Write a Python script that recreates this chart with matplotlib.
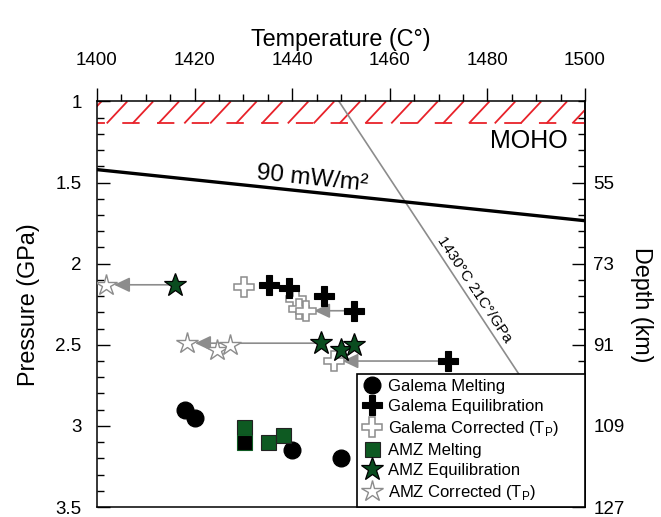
import numpy as np
import matplotlib
matplotlib.use('Agg')
import matplotlib.pyplot as plt
from matplotlib.ticker import MultipleLocator, FixedLocator, FuncFormatter

plt.rcParams['font.family'] = ['Liberation Sans', 'DejaVu Sans']
plt.rcParams['lines.scale_dashes'] = False
plt.rcParams['mathtext.fontset'] = 'custom'
plt.rcParams['mathtext.rm'] = 'Liberation Sans'

# ---------------- data ----------------
galema_melt_T = [1418.1, 1420.1, 1440.0, 1449.9]
galema_melt_P = [2.90, 2.95, 3.15, 3.20]

galema_eq_T = [1435.2, 1439.3, 1446.5, 1452.7, 1471.9]
galema_eq_P = [2.13, 2.15, 2.20, 2.29, 2.60]

galema_corr_T = [1430.1, 1440.7, 1441.4, 1442.8, 1448.6]
galema_corr_P = [2.145, 2.215, 2.28, 2.29, 2.60]

amz_melt_T = [1430.1, 1435.1, 1438.2]
amz_melt_P = [3.005, 3.10, 3.055]

# overlapping melting point drawn as a dark square
overlap_melt_T = [1430.1]
overlap_melt_P = [3.10]

amz_eq_T = [1416.0, 1445.8, 1449.9, 1452.7]
amz_eq_P = [2.13, 2.49, 2.53, 2.50]

amz_corr_T = [1401.8, 1418.4, 1424.6, 1427.3]
amz_corr_P = [2.13, 2.49, 2.53, 2.50]

# which equilibration points carry an arrow to their corrected value
amz_arrow_idx = [0, 1]
galema_arrow_idx = [3, 4]

geotherm_T = [1400, 1500]
geotherm_P = [1.42, 1.735]

adiabat_T = [1449.6, 1504.4]
adiabat_P = [1.0, 3.5]

moho_top_P = 1.0
moho_base_P = 1.135

pressure_ticks = [1, 1.5, 2, 2.5, 3, 3.5]
depth_ticks = [55, 73, 91, 109, 127]
temp_ticks = [1400, 1420, 1440, 1460, 1480, 1500]

legend_labels = ['Galema Melting', 'Galema Equilibration',
                 r'Galema Corrected (T$_\mathregular{P}$)',
                 'AMZ Melting', 'AMZ Equilibration',
                 r'AMZ Corrected (T$_\mathregular{P}$)']

# ---------------- figure ----------------
fig = plt.figure(figsize=(6.61, 5.17), dpi=100)
ax = fig.add_axes([0.1467, 0.0193, 0.7384, 0.7844])
ax.set_xlim(1400, 1500)
ax.set_ylim(3.5, 1.0)

RED = '#e8222a'
GREEN_SQ = '#0e5a22'
GREEN_ST = '#0a4c1f'
GRAY = '#8c8c8c'

# Moho hatch band
for t0 in np.arange(1396.7, 1500, 5.3):
    ax.plot([t0, t0 + 4.2], [moho_base_P, moho_top_P], color=RED, lw=1.3,
            solid_capstyle='butt', zorder=1)
ax.plot([1400, 1500], [moho_base_P, moho_base_P], color=RED, lw=1.3,
        ls=(6.8, (12.5, 12.5)), zorder=1)

# adiabat and geotherm
ax.plot(adiabat_T, adiabat_P, color=GRAY, lw=1.2, zorder=1)
ax.plot(geotherm_T, geotherm_P, color='black', lw=2.4, zorder=2)

def angle_of(T, P):
    p1 = ax.transData.transform((T[0], P[0]))
    p2 = ax.transData.transform((T[1], P[1]))
    return np.degrees(np.arctan2(p2[1] - p1[1], p2[0] - p1[0]))

ax.text(1444.1, 1.477, '90 mW/m²', fontsize=17.5, rotation=angle_of(geotherm_T, geotherm_P),
        rotation_mode='anchor', ha='center', va='center')
ax.text(1477.4, 2.16, '1430°C 21C°/GPa', fontsize=11, rotation=angle_of(adiabat_T, adiabat_P),
        rotation_mode='anchor', ha='center', va='center')
ax.text(1488.5, 1.246, 'MOHO', fontsize=18, ha='center', va='center')

# arrows
arrow_kw = dict(arrowstyle='-|>,head_length=0.95,head_width=0.45', color=GRAY,
                lw=1.2, shrinkA=0, shrinkB=6, mutation_scale=10)
for i in amz_arrow_idx:
    ax.annotate('', xy=(amz_corr_T[i], amz_corr_P[i]), xytext=(amz_eq_T[i], amz_eq_P[i]),
                arrowprops=arrow_kw, zorder=3)
for i in galema_arrow_idx:
    ax.annotate('', xy=(galema_corr_T[i], galema_corr_P[i]), xytext=(galema_eq_T[i], galema_eq_P[i]),
                arrowprops=arrow_kw, zorder=3)

# points
h1, = ax.plot(galema_melt_T, galema_melt_P, ls='none', marker='o', ms=12,
              mfc='black', mec='black', zorder=4)
h4, = ax.plot(amz_melt_T, amz_melt_P, ls='none', marker='s', ms=10.8,
              mfc=GREEN_SQ, mec='#222222', mew=0.8, zorder=5)
ax.plot(overlap_melt_T, overlap_melt_P, ls='none', marker='s', ms=10.8,
        mfc='black', mec=GREEN_SQ, mew=0.8, zorder=5)
h3, = ax.plot(galema_corr_T, galema_corr_P, ls='none', marker='P', ms=14,
              mfc='white', mec=GRAY, mew=1.1, zorder=4)
h6, = ax.plot(amz_corr_T, amz_corr_P, ls='none', marker='*', ms=16,
              mfc='white', mec=GRAY, mew=1.0, zorder=4)
h2, = ax.plot(galema_eq_T, galema_eq_P, ls='none', marker='P', ms=14.5,
              mfc='black', mec='black', mew=0.8, zorder=5)
h5, = ax.plot(amz_eq_T, amz_eq_P, ls='none', marker='*', ms=17,
              mfc=GREEN_ST, mec='black', mew=0.9, zorder=5)

leg = ax.legend([h1, h2, h3, h4, h5, h6], legend_labels, loc='lower left',
                bbox_to_anchor=(0.533, 0.0, 0.467, 0.325), mode='expand',
                borderaxespad=0, fontsize=12,
                fancybox=False, edgecolor='black', framealpha=1,
                handlelength=1.2, handletextpad=0.36, borderpad=0.3,
                labelspacing=0.3, markerscale=1.0)
leg.get_frame().set_linewidth(1.2)
leg.set_zorder(10)

# axes styling
for s in ax.spines.values():
    s.set_linewidth(1.1)

ax.xaxis.tick_top()
ax.xaxis.set_label_position('top')
ax.set_xticks(temp_ticks)
ax.xaxis.set_minor_locator(MultipleLocator(5))
ax.tick_params(axis='x', which='major', direction='out', length=9.5, width=1,
               labelsize=13.5, pad=14)
ax.tick_params(axis='x', which='minor', direction='out', length=5, width=1)
ax.set_xlabel('Temperature (C°)', fontsize=16.8, labelpad=4)

ax.set_yticks(pressure_ticks)
ax.yaxis.set_minor_locator(MultipleLocator(0.1))
ax.yaxis.set_major_formatter(FuncFormatter(lambda v, p: '%g' % v))
ax.tick_params(axis='y', which='major', direction='in', length=9.5, width=1,
               labelsize=13.5, pad=11)
ax.tick_params(axis='y', which='minor', direction='in', length=5, width=1)
ax.set_ylabel('Pressure (GPa)', fontsize=16.8, labelpad=11)

def p2d(p):
    return 36.0 * np.asarray(p) + 1.0

def d2p(d):
    return (np.asarray(d) - 1.0) / 36.0

sec = ax.secondary_yaxis('right', functions=(p2d, d2p))
sec.set_yticks(depth_ticks)
sec.yaxis.set_minor_locator(FixedLocator(p2d(np.arange(1.0, 3.55, 0.1))))
sec.tick_params(axis='y', which='major', direction='in', length=9.5, width=1,
                labelsize=13.5, pad=6)
sec.tick_params(axis='y', which='minor', direction='in', length=5, width=1)
sec.spines['right'].set_linewidth(1.1)
sec.set_ylabel('Depth (km)', fontsize=16.8, rotation=270, labelpad=20)

fig.savefig('out.png', dpi=100)
